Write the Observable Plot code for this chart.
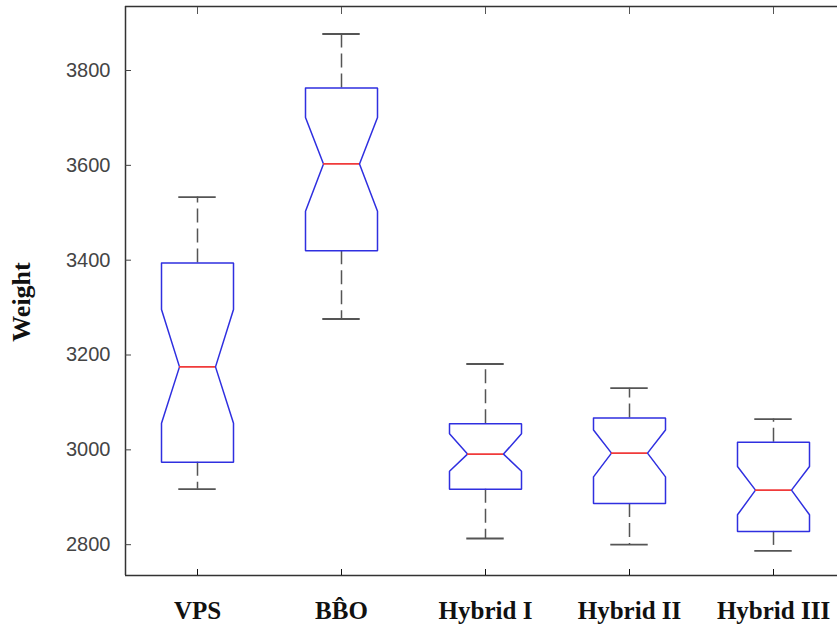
<!DOCTYPE html>
<html><head><meta charset="utf-8">
<script src="https://cdn.jsdelivr.net/npm/d3@7"></script>
<script src="https://cdn.jsdelivr.net/npm/@observablehq/plot@0.6"></script>
<style>html,body{margin:0;padding:0;background:#fff;overflow:hidden}</style>
</head><body><div id="chart"></div>
<script>
// Categories and box statistics
const categories  = ["VPS", "BB\u0302O", "Hybrid I", "Hybrid II", "Hybrid III"];
const whiskerLow  = [2917, 3276, 2813, 2800, 2787];
const q1          = [2974, 3420, 2917, 2887, 2828];
const notchLow    = [3056, 3503, 2955, 2943, 2863];
const median      = [3175, 3603, 2991, 2993, 2915];
const notchHigh   = [3296, 3701, 3034, 3042, 2965];
const q3          = [3394, 3763, 3055, 3067, 3016];
const whiskerHigh = [3533, 3877, 3181, 3130, 3065];
const yTicks = [2800, 3000, 3200, 3400, 3600, 3800];
const yLabel = "Weight";
const yDomain = [2735, 3935];

const W = 0.25, NW = 0.125, CAP = 0.13;
const idx = categories.map((_, i) => i);
const stats = idx.map(i => ({i, lo: whiskerLow[i], q1: q1[i], nlo: notchLow[i], med: median[i], nhi: notchHigh[i], q3: q3[i], hi: whiskerHigh[i]}));
const outline = stats.flatMap(s => [
  [-W, s.q3], [W, s.q3], [W, s.nhi], [NW, s.med], [W, s.nlo], [W, s.q1],
  [-W, s.q1], [-W, s.nlo], [-NW, s.med], [-W, s.nhi], [-W, s.q3]
].map(([d, v]) => ({i: s.i, x: s.i + d, y: v})));

const frameColor = "#333";
const chart = Plot.plot({
  width: 837, height: 628,
  marginTop: 6, marginBottom: 53, marginLeft: 125, marginRight: 0,
  x: {type: "linear", domain: [-0.5, 4.5], range: [125, 845], axis: null},
  y: {domain: yDomain, axis: null},
  style: {background: "#fff"},
  marks: [
    // whiskers
    Plot.ruleX(stats, {x: "i", y1: "q3", y2: "hi", stroke: "#555", strokeWidth: 1.5, strokeDasharray: "14,6"}),
    Plot.ruleX(stats, {x: "i", y1: "q1", y2: "lo", stroke: "#555", strokeWidth: 1.5, strokeDasharray: "14,6"}),
    Plot.ruleY(stats, {y: "hi", x1: d => d.i - CAP, x2: d => d.i + CAP, stroke: "#555", strokeWidth: 1.8}),
    Plot.ruleY(stats, {y: "lo", x1: d => d.i - CAP, x2: d => d.i + CAP, stroke: "#555", strokeWidth: 1.8}),
    // notched boxes
    Plot.line(outline, {x: "x", y: "y", z: "i", stroke: "#2f2fe0", strokeWidth: 1.5, strokeLinejoin: "miter"}),
    // medians
    Plot.ruleY(stats, {y: "med", x1: d => d.i - NW, x2: d => d.i + NW, stroke: "#f03a3a", strokeWidth: 1.8}),
    // frame lines
    Plot.ruleY([yDomain[1]], {stroke: frameColor, strokeWidth: 1.5}),
    Plot.ruleY([yDomain[0]], {stroke: frameColor, strokeWidth: 1.5}),
    Plot.ruleX([-0.5], {stroke: frameColor, strokeWidth: 1.5}),
    // axes
    Plot.axisY({ticks: yTicks, tickSize: -6, tickPadding: 21, tickFormat: d => String(d),
      fontSize: 20, fontFamily: "Liberation Sans, Arial, sans-serif", color: "#444", label: null}),
    Plot.axisX({anchor: "bottom", ticks: idx, tickSize: -6, tickPadding: 32, tickFormat: i => categories[i],
      fontSize: 25, fontWeight: "bold", fontFamily: "Liberation Serif, Times New Roman, serif", color: "#111", label: null}),
    Plot.axisX({anchor: "top", ticks: idx, tickSize: -7, tickFormat: () => "", color: "#555", label: null}),
    // y label
    Plot.text([yLabel], {frameAnchor: "left", text: d => d, rotate: -90, textAnchor: "middle", dx: -104, dy: 11,
      fontSize: 26, fontWeight: "bold", fontFamily: "Liberation Serif, Times New Roman, serif", fill: "#111"})
  ]
});
document.getElementById("chart").appendChild(chart);
</script></body></html>
